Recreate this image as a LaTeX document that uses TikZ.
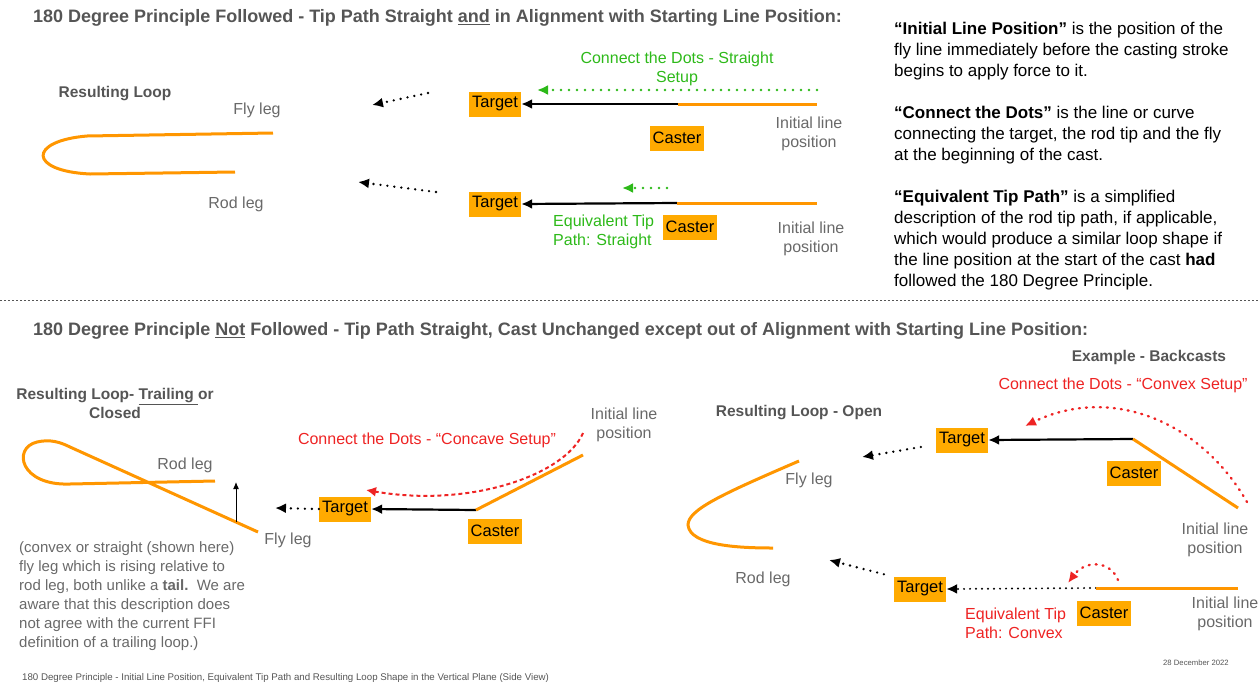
\documentclass[tikz,border=0pt]{standalone}
\usepackage{fontspec}
\setmainfont{Liberation Sans}
\usepackage{xcolor}
\usetikzlibrary{arrows.meta,
	positioning,
	calc}

\definecolor{boxorange}{RGB}{255,170,0}
\definecolor{lineorange}{RGB}{255,150,0}
\definecolor{labelgray}{RGB}{105,105,105}
\definecolor{headgray}{RGB}{85,85,85}
\definecolor{dotgreen}{RGB}{45,185,25}
\definecolor{dotred}{RGB}{238,35,35}

\begin{document}
\begin{tikzpicture}[x=1pt,y=-1pt,
	box/.style={fill=boxorange, text=black, inner xsep=3pt, inner ysep=0pt, minimum height=25pt, font=\fontsize{16.5}{19}\selectfont},
	lbl/.style={text=labelgray, font=\fontsize{16}{19}\selectfont, align=center, inner sep=0pt},
	head/.style={text=headgray, font=\bfseries\fontsize{15.5}{19}\selectfont, align=center, inner sep=0pt},
	title/.style={text=headgray, font=\bfseries\fontsize{18}{21}\selectfont, anchor=west, inner sep=0pt},
	note/.style={font=\fontsize{15}{19}\selectfont, align=left, inner sep=0pt},
	rope/.style={lineorange, line width=3pt},
	pull/.style={line width=2.2pt, -{Latex[length=11pt,width=10pt]}},
	dots/.style={line width=2.6pt, dash pattern=on 0pt off 7pt, line cap=round, -{Latex[length=11pt,width=10pt]}},
	reddash/.style={dotred, line width=2pt, dash pattern=on 4pt off 3pt, -{Latex[length=10pt,width=10pt]}},
	reddots/.style={dotred, line width=2.4pt, dash pattern=on 1pt off 6pt, line cap=round, -{Latex[length=11pt,width=10pt]}}]
	\useasboundingbox (0,0) rectangle (1260,683);

	% ---- upper half: 180 degree principle followed
	\node[title] (titleA) at (33,18) {180 Degree Principle Followed - Tip Path Straight \underline{and} in Alignment with Starting Line Position:};

	\node[head] (loopA) at (115,94) {Resulting Loop};
	\node[lbl] (flyA) at (257,110) {Fly leg};
	\node[lbl] (rodA) at (236,204) {Rod leg};
	\draw[rope] (273,133) -- (87,136) .. controls (28,141) and (28,171) .. (90,174) -- (235,172);

	\coordinate (dA1) at (428,93);
	\coordinate (dA2) at (372,105);
	\coordinate (dB1) at (436,192);
	\coordinate (dB2) at (358,182);
	\draw[dots] (dA1) -- (dA2);
	\draw[dots] (dB1) -- (dB2);

	\node[box] (tgtA) at (495,104) {Target};
	\node[box] (castA) at (677,138) {Caster};
	\coordinate (tipA) at (678,104);
	\coordinate (endA) at (817,104);
	\draw[pull] (tipA) -- (tgtA.east);
	\draw[rope] (tipA) -- (endA);
	\coordinate (gA1) at (817,90);
	\coordinate (gA2) at (537,90);
	\draw[dots, dotgreen, dash pattern=on 0pt off 8pt] (gA1) -- (gA2);
	\node[lbl, text=dotgreen] (cdA) at (677,69) {Connect the Dots - Straight\\Setup};
	\node[lbl] (ilpA) at (809,134) {Initial line\\position};

	\node[box] (tgtB) at (495,204) {Target};
	\node[box] (castB) at (690,227) {Caster};
	\coordinate (tipB) at (677,203);
	\coordinate (endB) at (817,203);
	\draw[pull] (tipB) -- (tgtB.east);
	\draw[rope] (tipB) -- (endB);
	\coordinate (gB1) at (667,188);
	\coordinate (gB2) at (622,188);
	\draw[dots, dotgreen, dash pattern=on 0pt off 8pt] (gB1) -- (gB2);
	\node[lbl, text=dotgreen, align=left, anchor=west] (etpB) at (553,232) {Equivalent Tip\\Path: Straight};
	\node[lbl] (ilpB) at (811,239) {Initial line\\position};

	\node[anchor=north west, align=left, inner sep=0pt, font=\fontsize{17}{21}\selectfont] (defs) at (894,22) {\textbf{“Initial Line Position”} is the position of the\\
		fly line immediately before the casting stroke\\
		begins to apply force to it.\\[21pt]
		\textbf{“Connect the Dots”} is the line or curve\\
		connecting the target, the rod tip and the fly\\
		at the beginning of the cast.\\[21pt]
		\textbf{“Equivalent Tip Path”} is a simplified\\
		description of the rod tip path, if applicable,\\
		which would produce a similar loop shape if\\
		the line position at the start of the cast \textbf{had}\\
		followed the 180 Degree Principle.};

	\coordinate (sepL) at (0,300);
	\coordinate (sepR) at (1260,300);
	\draw[headgray, line width=1pt, dash pattern=on 1.5pt off 2.5pt] (sepL) -- (sepR);

	% ---- lower half: 180 degree principle not followed
	\node[title] (titleB) at (33,331) {180 Degree Principle \underline{Not} Followed - Tip Path Straight, Cast Unchanged except out of Alignment with Starting Line Position:};
	\node[head] (backc) at (1149,357) {Example - Backcasts};

	% trailing loop
	\node[head] (loopC) at (115,403) {Resulting Loop- \underline{Trailing }or\\Closed};
	\draw[rope] (215,481) -- (70,484) .. controls (20,486) and (12,448) .. (37,442) .. controls (50,439) and (60,442) .. (70,447) -- (258,532);
	\coordinate (upA) at (236,522);
	\coordinate (upB) at (236,482);
	\draw[line width=1pt, -{Latex[length=7pt,width=6pt]}] (upA) -- (upB);
	\node[lbl] (rodC) at (185,465) {Rod leg};
	\node[lbl] (flyC) at (288,540) {Fly leg};
	\node[note, text=labelgray, anchor=north west] (remark) at (19,541) {(convex or straight (shown here)\\
		fly leg which is rising relative to\\
		rod leg, both unlike a \textbf{tail.}\ \ We are\\
		aware that this description does\\
		not agree with the current FFI\\
		definition of a trailing loop.)};

	\node[box] (tgtC) at (345,509) {Target};
	\node[box] (castC) at (495,531) {Caster};
	\coordinate (tipC) at (476,510);
	\coordinate (endC) at (583,455);
	\coordinate (dC) at (275,508);
	\draw[dots] (tgtC.west) -- (dC);
	\draw[pull] (tipC) -- (tgtC.east);
	\draw[rope] (tipC) -- (endC);
	\coordinate (rC1) at (583,433);
	\coordinate (rC2) at (366,490);
	\draw[reddash] (rC1) .. controls (565,475) and (470,508) .. (rC2);
	\node[lbl, text=dotred] (cdC) at (427,440) {Connect the Dots - “Concave Setup”};
	\node[lbl] (ilpC) at (624,425) {Initial line\\position};

	% open loop
	\node[head] (loopD) at (799,413) {Resulting Loop - Open};
	\draw[rope] (799,461) .. controls (720,495) and (688,510) .. (688,525) .. controls (690,546) and (740,548) .. (773,548);
	\node[lbl] (flyD) at (809,480) {Fly leg};
	\node[lbl] (rodD) at (763,579) {Rod leg};

	\node[lbl, text=dotred] (cdD) at (1123,385) {Connect the Dots - “Convex Setup”};
	\node[box] (tgtD) at (962,440) {Target};
	\node[box] (castD) at (1134,473) {Caster};
	\coordinate (tipD) at (1133,439);
	\coordinate (endD) at (1238,508);
	\draw[pull] (tipD) -- (tgtD.east);
	\draw[rope] (tipD) -- (endD);
	\coordinate (dD) at (862,457);
	\draw[dots] ($(tgtD.west)+(-15,7)$) -- (dD);
	\coordinate (rD1) at (1247,502);
	\coordinate (rD2) at (1025,426);
	\draw[reddots] (rD1) .. controls (1200,420) and (1110,385) .. (rD2);
	\node[lbl] (ilpD) at (1215,540) {Initial line\\position};

	\node[box] (tgtE) at (920,589) {Target};
	\node[box] (castE) at (1104,613) {Caster};
	\coordinate (tipE) at (1096,588);
	\coordinate (endE) at (1238,588);
	\draw[dots, line width=2.2pt, dash pattern=on 0pt off 6pt] (tipE) -- (tgtE.east);
	\draw[rope] (tipE) -- (endE);
	\coordinate (dE) at (829,560);
	\draw[dots] ($(tgtE.north west)+(-10,-2)$) -- (dE);
	\coordinate (rE1) at (1118,580);
	\coordinate (rE2) at (1068,583);
	\draw[reddots] (rE1) .. controls (1110,560) and (1085,560) .. (rE2);
	\node[lbl, text=dotred, align=left, anchor=west] (etpE) at (965,623) {Equivalent Tip\\Path: Convex};
	\node[lbl] (ilpE) at (1225,614) {Initial line\\position};

	\node[anchor=west, inner sep=0pt, text=headgray, font=\fontsize{7.7}{9}\selectfont] (date) at (1163,663) {28 December 2022};
	\node[anchor=west, inner sep=0pt, text=headgray, font=\fontsize{9.7}{11}\selectfont] (footer) at (22,678) {180 Degree Principle - Initial Line Position, Equivalent Tip Path and Resulting Loop Shape in the Vertical Plane (Side View)};
\end{tikzpicture}
\end{document}
